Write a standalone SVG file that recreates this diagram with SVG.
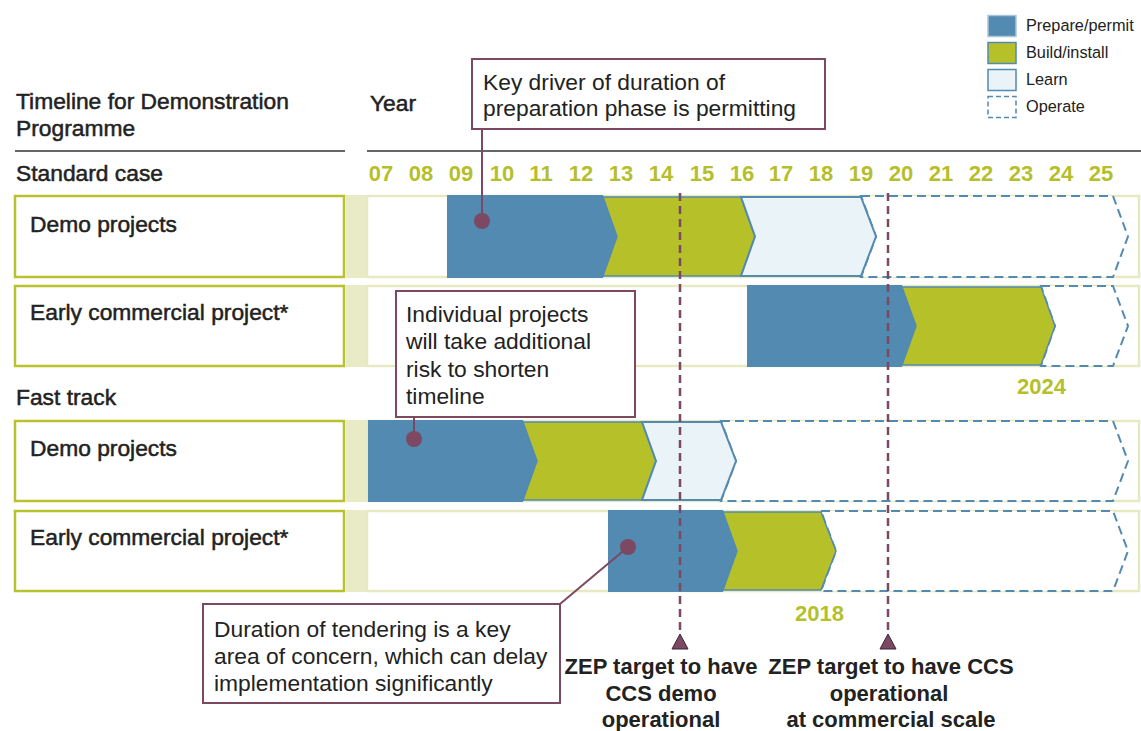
<svg xmlns="http://www.w3.org/2000/svg" width="1141" height="731" viewBox="0 0 1141 731">
<style>
.t{font-family:"Liberation Sans",Arial,sans-serif;fill:#222}
.h{font-size:22.8px;stroke:#222;stroke-width:0.5}
.yr{font-family:"Liberation Sans",Arial,sans-serif;font-size:22px;font-weight:bold;fill:#b5bf2b}
.c{font-size:22.8px}
.z{font-size:22px;font-weight:bold;text-anchor:middle}
.lg{font-size:16.3px}
.lab{fill:#fff;stroke:#b7c22c;stroke-width:2.5}
.col{fill:#e8ebc6}
.trk{fill:#fff;stroke:#e6e9c2;stroke-width:2.5}
.prep{fill:#528ab1}
.build{fill:#b6c028;stroke:#528ab1;stroke-width:1.5}
.learn{fill:#eaf3f7;stroke:#528ab1;stroke-width:2}
.op{fill:#fff;stroke:#528ab1;stroke-width:2;stroke-dasharray:9 5}
.cb{fill:#fff;stroke:#7c4862;stroke-width:2}
.cl{stroke:#7c4862;stroke-width:2;fill:none}
.dot{fill:#7c4862}
.vd{stroke:#7c4862;stroke-width:2.5;stroke-dasharray:8 5;fill:none}
.tri{fill:#7c4862;stroke:#3a2430;stroke-width:1}
.hl{stroke:#666;stroke-width:2}
</style>

<g id="header">
  <text class="t h" x="16" y="109">Timeline for Demonstration</text>
  <text class="t h" x="16" y="136">Programme</text>
  <text class="t h" x="370" y="111">Year</text>
  <line class="hl" x1="15" y1="151" x2="345" y2="151"/>
  <line class="hl" x1="367" y1="151" x2="1141" y2="151"/>
  <text class="t h" x="16" y="181">Standard case</text>
  <text class="t h" x="16" y="405">Fast track</text>
</g>

<g id="years" text-anchor="middle">
  <text class="yr" x="381" y="181">07</text>
  <text class="yr" x="421" y="181">08</text>
  <text class="yr" x="461" y="181">09</text>
  <text class="yr" x="502" y="181">10</text>
  <text class="yr" x="541" y="181">11</text>
  <text class="yr" x="581" y="181">12</text>
  <text class="yr" x="621" y="181">13</text>
  <text class="yr" x="661" y="181">14</text>
  <text class="yr" x="702" y="181">15</text>
  <text class="yr" x="742" y="181">16</text>
  <text class="yr" x="781" y="181">17</text>
  <text class="yr" x="821" y="181">18</text>
  <text class="yr" x="861" y="181">19</text>
  <text class="yr" x="901" y="181">20</text>
  <text class="yr" x="941" y="181">21</text>
  <text class="yr" x="981" y="181">22</text>
  <text class="yr" x="1021" y="181">23</text>
  <text class="yr" x="1061" y="181">24</text>
  <text class="yr" x="1101" y="181">25</text>
</g>

<g id="legend">
  <rect x="988" y="15.5" width="28" height="21" fill="#528ab1" stroke="#a9c6da" stroke-width="1.5"/>
  <rect x="988" y="42.5" width="28" height="21" fill="#b6c028" stroke="#528ab1" stroke-width="1.5"/>
  <rect x="988" y="69.5" width="28" height="21" fill="#eaf3f7" stroke="#528ab1" stroke-width="1.5"/>
  <rect x="988" y="96.5" width="28" height="21" fill="#fff" stroke="#528ab1" stroke-width="1.5" stroke-dasharray="5 3"/>
  <text class="t lg" x="1026" y="30.5">Prepare/permit</text>
  <text class="t lg" x="1026" y="57.5">Build/install</text>
  <text class="t lg" x="1026" y="84.5">Learn</text>
  <text class="t lg" x="1026" y="111.5">Operate</text>
</g>

<g id="row1">
  <rect class="lab" x="15" y="196" width="329" height="81"/>
  <text class="t h" x="30" y="232">Demo projects</text>
  <rect class="col" x="346" y="195" width="21" height="83"/>
  <rect class="trk" x="367" y="196" width="772" height="81"/>
  <polygon class="op" points="861,196 1113,196 1128,236.5 1113,277 861,277 876,236.5"/>
  <polygon class="prep" points="447,195 603,195 617,236.5 603,278 447,278"/>
  <polygon class="build" points="603,197 741,197 755,236.5 741,276 603,276 617,236.5"/>
  <polygon class="learn" points="741,197 861,197 876,236.5 861,276 741,276 755,236.5"/>
</g>

<g id="row2">
  <rect class="lab" x="15" y="286" width="329" height="80"/>
  <text class="t h" x="30" y="320">Early commercial project*</text>
  <rect class="col" x="346" y="285" width="21" height="82"/>
  <rect class="trk" x="367" y="286" width="772" height="80"/>
  <polygon class="op" points="1041,286 1113,286 1128,326 1113,366 1041,366 1055,326"/>
  <polygon class="prep" points="747,285 902,285 916,326 902,367 747,367"/>
  <polygon class="build" points="902,287 1041,287 1055,326 1041,365 902,365 916,326"/>
  <text class="yr" x="1017" y="394">2024</text>
</g>

<g id="row3">
  <rect class="lab" x="15" y="421" width="329" height="80"/>
  <text class="t h" x="30" y="456">Demo projects</text>
  <rect class="col" x="346" y="420" width="21" height="82"/>
  <rect class="trk" x="367" y="421" width="772" height="80"/>
  <polygon class="op" points="721,421 1113,421 1128,461 1113,501 721,501 736,461"/>
  <polygon class="prep" points="368,420 523,420 537,461 523,502 368,502"/>
  <polygon class="build" points="523,422 642,422 656,461 642,500 523,500 537,461"/>
  <polygon class="learn" points="642,422 721,422 736,461 721,500 642,500 656,461"/>
</g>

<g id="row4">
  <rect class="lab" x="15" y="511" width="329" height="80"/>
  <text class="t h" x="30" y="545">Early commercial project*</text>
  <rect class="col" x="346" y="510" width="21" height="82"/>
  <rect class="trk" x="367" y="511" width="772" height="80"/>
  <polygon class="op" points="821,511 1113,511 1128,551 1113,591 821,591 836,551"/>
  <polygon class="prep" points="608,510 723,510 737,551 723,592 608,592"/>
  <polygon class="build" points="723,512 821,512 836,551 821,590 723,590 737,551"/>
  <text class="yr" x="795" y="621">2018</text>
</g>

<g id="connectors">
  <line class="vd" x1="680" y1="193" x2="680" y2="634"/>
  <line class="vd" x1="888" y1="193" x2="888" y2="634"/>
  <polygon class="tri" points="680,634 688,649 672,649"/>
  <polygon class="tri" points="888,634 896,649 880,649"/>
  <line class="cl" x1="482" y1="129" x2="482" y2="221"/>
  <circle class="dot" cx="482" cy="221" r="8"/>
  <line class="cl" x1="414" y1="417" x2="414" y2="439"/>
  <circle class="dot" cx="414" cy="439" r="8"/>
  <line class="cl" x1="560" y1="604" x2="628" y2="547"/>
  <circle class="dot" cx="628" cy="547" r="8"/>
</g>

<g id="callout-permitting">
  <rect class="cb" x="472" y="59" width="353" height="70"/>
  <text class="t c" x="483" y="89.5">Key driver of duration of</text>
  <text class="t c" x="483" y="116">preparation phase is permitting</text>
</g>

<g id="callout-risk">
  <rect class="cb" x="396" y="291" width="239" height="126"/>
  <text class="t c" x="406" y="322">Individual projects</text>
  <text class="t c" x="406" y="349">will take additional</text>
  <text class="t c" x="406" y="376.5">risk to shorten</text>
  <text class="t c" x="406" y="404">timeline</text>
</g>

<g id="callout-tendering">
  <rect class="cb" x="203" y="604" width="357" height="99"/>
  <text class="t c" x="214" y="637">Duration of tendering is a key</text>
  <text class="t c" x="214" y="664">area of concern, which can delay</text>
  <text class="t c" x="214" y="691">implementation significantly</text>
</g>

<g id="target-demo">
  <text class="t z" x="661" y="674">ZEP target to have</text>
  <text class="t z" x="661" y="701">CCS demo</text>
  <text class="t z" x="661" y="727">operational</text>
</g>

<g id="target-commercial">
  <text class="t z" x="891" y="674">ZEP target to have CCS</text>
  <text class="t z" x="889" y="701">operational</text>
  <text class="t z" x="891" y="727">at commercial scale</text>
</g>
</svg>
